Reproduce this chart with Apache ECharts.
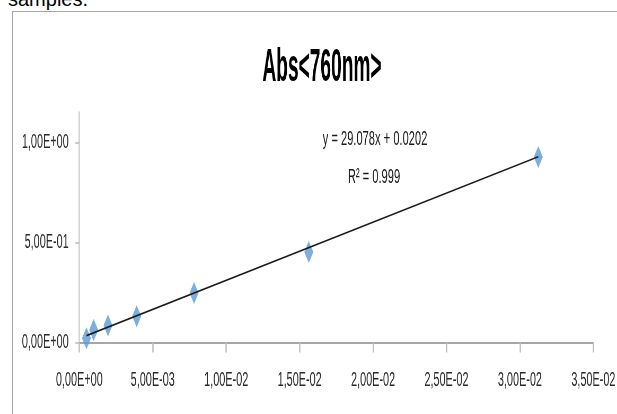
<!DOCTYPE html>
<html>
<head>
<meta charset="utf-8">
<script src="https://cdn.jsdelivr.net/npm/echarts@6/dist/echarts.min.js"></script>
<style>
  html, body { margin: 0; padding: 0; background: #fff; width: 617px; height: 414px; overflow: hidden; }
  #frame { position: absolute; left: 12px; top: 11px; width: 640px; height: 420px;
           border-top: 1px solid #a6a6a6; border-left: 1px solid #a6a6a6; }
  #above { position: absolute; left: 8px; top: -11px; font: 20px "Liberation Sans", sans-serif;
           line-height: 20px; color: #000; white-space: nowrap; }
  #chart { position: absolute; left: 0; top: 0; width: 1164px; height: 414px;
           transform: scaleX(0.530069); transform-origin: 0 0; }
</style>
</head>
<body>
<div id="above">samples.</div>
<div id="frame"></div>
<div id="chart"></div>
<script>
// ---- data ----
const concentrations = [0.00048828, 0.00097656, 0.0019531, 0.0039063, 0.0078125, 0.015625, 0.03125];
const absorbance     = [0.021, 0.063, 0.085, 0.131, 0.247, 0.452, 0.927];
const xTicks = [0, 0.005, 0.01, 0.015, 0.02, 0.025, 0.03, 0.035];
const yTicks = [0, 0.5, 1.0];
const trendSlope = 29.078;
const trendIntercept = 0.0202;
const titleText = 'Abs<760nm>';
const equationText = 'y = 29.078x + 0.0202';
const r2Text = 'R\u00B2 = 0.999';

const S = 617 / 1164; // horizontal compression of the chart
const FONT = '"Liberation Sans", "Noto Sans", sans-serif';

function sci(v) {
  if (Math.abs(v) < 1e-12) return '0,00E+00';
  let e = Math.floor(Math.log10(Math.abs(v)) + 1e-9);
  let m = v / Math.pow(10, e);
  let ms = m.toFixed(2);
  if (parseFloat(ms) >= 10) { e += 1; ms = (v / Math.pow(10, e)).toFixed(2); }
  const sign = e < 0 ? '-' : '+';
  const ea = String(Math.abs(e)).padStart(2, '0');
  return ms.replace('.', ',') + 'E' + sign + ea;
}

const scatterData = concentrations.map((x, i) => [x, absorbance[i]]);
const xFirst = concentrations[0], xLast = concentrations[concentrations.length - 1];
const trendData = [[xFirst, trendSlope * xFirst + trendIntercept],
                   [xLast, trendSlope * xLast + trendIntercept]];

const chart = echarts.init(document.getElementById('chart'), null, { renderer: 'canvas' });
chart.setOption({
  animation: false,
  grid: { left: 79.3 / S, right: (617 - 595.3) / S, top: 112.5, bottom: 71.5, containLabel: false },
  xAxis: {
    type: 'value', min: 0, max: 0.035, interval: 0.005,
    splitLine: { show: false },
    axisLine: { show: true, lineStyle: { color: '#a6a6a6', width: 2 } },
    axisTick: { show: true, length: 10, lineStyle: { color: '#bfbfbf', width: 2.6 },
                customValues: xTicks },
    axisLabel: { customValues: xTicks, formatter: v => sci(v), color: '#2b2b2b',
                 fontFamily: FONT, fontSize: 20.5, margin: 27 }
  },
  yAxis: {
    type: 'value', min: 0, max: 1.15,
    splitLine: { show: false },
    axisLine: { show: true, lineStyle: { color: '#d0d0d0', width: 2.6 } },
    axisTick: { show: true, length: 7.5, lineStyle: { color: '#bfbfbf', width: 1.6 },
                customValues: yTicks },
    axisLabel: { customValues: yTicks, formatter: v => sci(v), color: '#2b2b2b',
                 fontFamily: FONT, fontSize: 20.5, margin: 20 }
  },
  series: [
    {
      type: 'scatter', name: 'Abs<760nm>', data: scatterData,
      symbol: 'diamond', symbolSize: [17, 22],
      itemStyle: { color: '#5b9bd5' }, z: 2
    },
    {
      type: 'line', name: 'Linear', data: trendData, showSymbol: false, symbol: 'none',
      lineStyle: { color: '#1a1a1a', width: 1.6 }, z: 3, silent: true
    }
  ],
  graphic: [
    { type: 'text', x: 322 / S, y: 68, scaleX: 0.769,
      style: { text: titleText, fill: '#000', font: 'bold 47px ' + FONT,
               align: 'center', verticalAlign: 'middle', textAlign: 'center', textVerticalAlign: 'middle' } },
    { type: 'text', x: 375 / S, y: 139,
      style: { text: equationText, fill: '#1a1a1a', font: '21px ' + FONT,
               align: 'center', verticalAlign: 'middle', textAlign: 'center', textVerticalAlign: 'middle' } },
    { type: 'text', x: 374 / S, y: 177,
      style: { text: r2Text, fill: '#1a1a1a', font: '21px ' + FONT,
               align: 'center', verticalAlign: 'middle', textAlign: 'center', textVerticalAlign: 'middle' } }
  ]
});
</script>
</body>
</html>
